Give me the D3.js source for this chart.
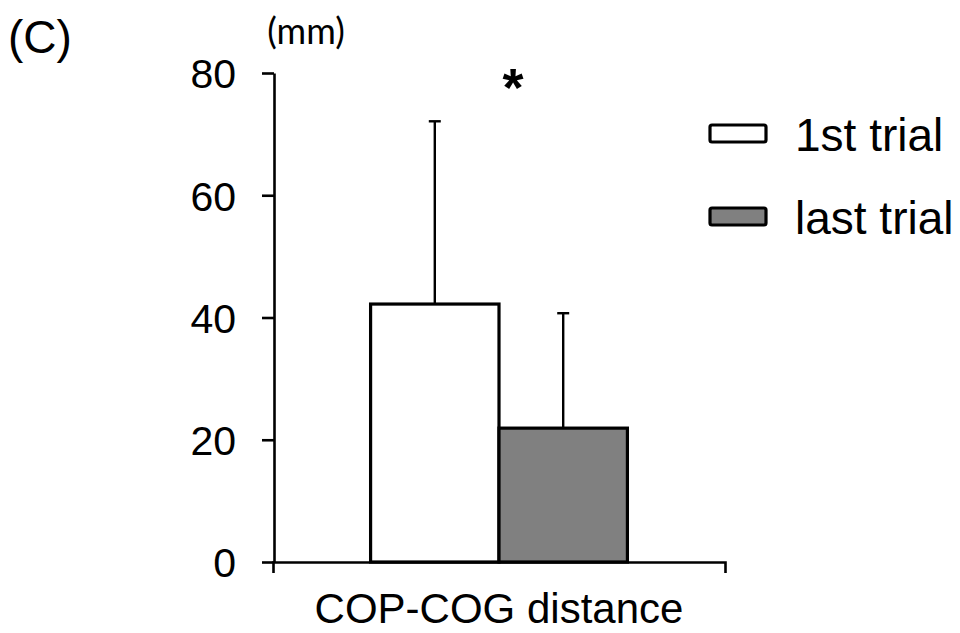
<!DOCTYPE html>
<html>
<head>
<meta charset="utf-8">
<script src="https://cdn.jsdelivr.net/npm/d3@7"></script>
<style>
  body { margin: 0; background: #fff; }
  svg text { font-family: "Liberation Sans", Arial, sans-serif; fill: #000; }
</style>
</head>
<body>
<svg id="chart" width="960" height="633"></svg>
<script>
// data
const categories = ["COP-COG distance"];
const series = ["1st trial", "last trial"];
const means = [42.2, 21.9];
const sds = [29.9, 18.8];
const colors = ["#ffffff", "#808080"];
const yTicks = [0, 20, 40, 60, 80];

const svg = d3.select("#chart");

// scales
const y = d3.scaleLinear().domain([0, 80]).range([562, 73]);
const x = d3.scaleBand().domain(categories).range([273, 725]);
const xs = d3.scaleBand().domain(series).range([0, x.bandwidth()])
    .paddingInner(0).paddingOuter(0.76);

// y axis
const yAxis = svg.append("g")
    .attr("transform", "translate(274,0)")
    .call(d3.axisLeft(y).tickValues(yTicks).tickSizeInner(12).tickSizeOuter(0).tickPadding(26));
yAxis.select(".domain").attr("stroke-width", 2.6);
yAxis.selectAll(".tick line").attr("stroke-width", 2.6);
yAxis.selectAll(".tick text")
    .attr("font-size", 41)
    .attr("font-family", "Liberation Sans, Arial, sans-serif")
    .attr("dy", "0.36em");

// bars
const g = svg.append("g");
const rows = series.map((s, i) => ({ s: s, m: means[i], sd: sds[i], c: colors[i] }));

// error bars (up only)
g.selectAll("line.err").data(rows).enter().append("line")
    .attr("class", "err")
    .attr("x1", d => x(categories[0]) + xs(d.s) + xs.bandwidth() / 2)
    .attr("x2", d => x(categories[0]) + xs(d.s) + xs.bandwidth() / 2)
    .attr("y1", d => y(d.m))
    .attr("y2", d => y(d.m + d.sd))
    .attr("stroke", "#000").attr("stroke-width", 2.4);
g.selectAll("line.cap").data(rows).enter().append("line")
    .attr("class", "cap")
    .attr("x1", d => x(categories[0]) + xs(d.s) + xs.bandwidth() / 2 - 6)
    .attr("x2", d => x(categories[0]) + xs(d.s) + xs.bandwidth() / 2 + 6)
    .attr("y1", d => y(d.m + d.sd))
    .attr("y2", d => y(d.m + d.sd))
    .attr("stroke", "#000").attr("stroke-width", 2.4);

g.selectAll("rect").data(rows).enter().append("rect")
    .attr("x", d => x(categories[0]) + xs(d.s))
    .attr("y", d => y(d.m))
    .attr("width", xs.bandwidth())
    .attr("height", d => y(0) - y(d.m))
    .attr("fill", d => d.c)
    .attr("stroke", "#000")
    .attr("stroke-width", 3.2);

// x axis
const xAxis = svg.append("g")
    .attr("transform", "translate(0,562)")
    .call(d3.axisBottom(x).tickSizeInner(0).tickSizeOuter(11).tickPadding(31));
xAxis.select(".domain").attr("stroke-width", 2.6);
xAxis.selectAll(".tick text")
    .attr("font-size", 42)
    .attr("font-family", "Liberation Sans, Arial, sans-serif");

// unit label
svg.append("text")
    .attr("x", 306).attr("y", 44)
    .attr("text-anchor", "middle")
    .style("font-family", "Lato, 'Open Sans', sans-serif")
    .attr("font-size", 36)
    .text("(mm)");

// panel label
svg.append("text")
    .attr("x", 8).attr("y", 53)
    .attr("font-size", 46)
    .text("(C)");

// significance
svg.append("text")
    .attr("x", x(categories[0]) + x.bandwidth() / 2 + 14).attr("y", 106)
    .attr("text-anchor", "middle")
    .attr("font-size", 54)
    .attr("font-weight", "bold")
    .text("*");

// legend
const legend = svg.append("g").attr("transform", "translate(710,0)");
const legY = [133.5, 216.5];
legend.selectAll("rect").data(rows).enter().append("rect")
    .attr("x", 0)
    .attr("y", (d, i) => legY[i] - 8.5)
    .attr("width", 56).attr("height", 17)
    .attr("rx", 2)
    .attr("fill", d => d.c)
    .attr("stroke", "#000").attr("stroke-width", 3.2);
legend.selectAll("text").data(rows).enter().append("text")
    .attr("x", 85)
    .attr("y", (d, i) => legY[i] + 17)
    .attr("font-size", 46)
    .text(d => d.s);
</script>
</body>
</html>
